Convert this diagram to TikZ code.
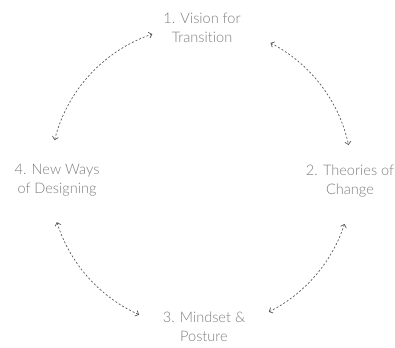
\documentclass[tikz,border=0pt]{standalone}
\usepackage{fontspec}
\setmainfont{Lato Light}[RawFeature={-liga;-dlig;-clig;-calt}]
\usetikzlibrary{arrows.meta,calc}
\definecolor{txt}{HTML}{7E7E7E}
\definecolor{ln}{HTML}{5A5A5A}
\tikzset{
  lbl/.style={align=center, text=txt, font=\fontsize{14.6}{19}\selectfont, inner sep=0pt},
  conn/.style={draw=ln, line width=0.7pt, dash pattern=on 2pt off 2pt,
    {Straight Barb[length=3pt,width=6pt]}-{Straight Barb[length=3pt,width=6pt]}}
}
\begin{document}
\begin{tikzpicture}[x=1bp,y=1bp]
\useasboundingbox[fill=white] (0,0) rectangle (395,348);
\coordinate (c) at (201,171);
\node[lbl] (n1) at (202,320) {1. Vision for\\Transition};
\node[lbl] (n2) at (350,167) {2. Theories of\\Change};
\node[lbl] (n3) at (204,21) {3. Mindset \&\\Posture};
\node[lbl] (n4) at (57,168) {4. New Ways\\of Designing};
\coordinate (a1) at ($(c)+(165.9:151)$);
\coordinate (a2) at ($(c)+(62.6:151)$);
\coordinate (a3) at ($(c)+(-18.1:151)$);
\coordinate (a4) at ($(c)+(197.4:151)$);
\draw[conn] (a1) arc[start angle=165.9, end angle=108.8, radius=151];
\draw[conn] (a2) arc[start angle=62.6, end angle=12.2, radius=151];
\draw[conn] (a3) arc[start angle=-18.1, end angle=-63.3, radius=151];
\draw[conn] (a4) arc[start angle=197.4, end angle=245.8, radius=151];
\end{tikzpicture}
\end{document}
